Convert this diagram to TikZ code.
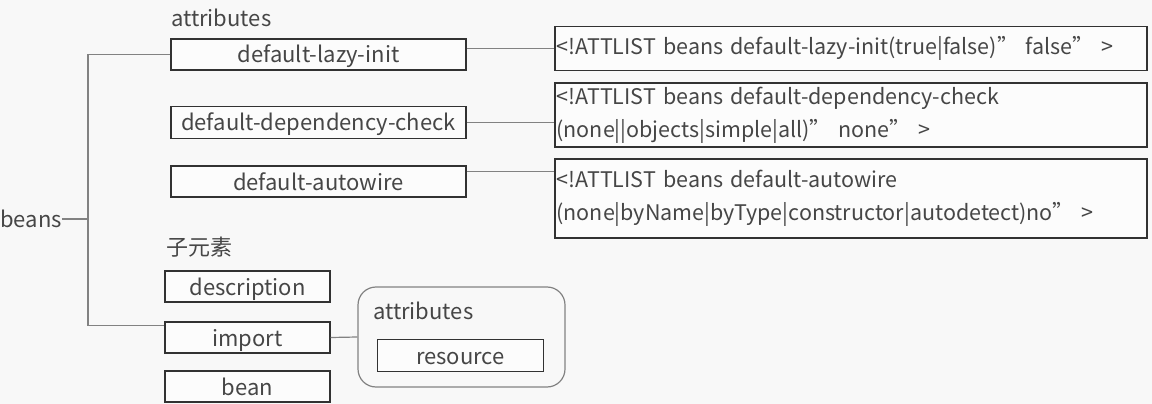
\documentclass[tikz,border=0pt]{standalone}
\usepackage{fontspec}
\setmainfont{Noto Sans CJK SC}
\definecolor{bg}{RGB}{248,248,248}
\definecolor{txt}{RGB}{70,70,70}
\definecolor{boxc}{RGB}{50,50,50}
\definecolor{linec}{RGB}{130,130,130}
\tikzset{
  lbl/.style={text=txt, font=\fontsize{22}{26}\selectfont, inner sep=0pt},
  ebox/.style={draw=boxc, line width=1.3pt, fill=white!60!bg, text=txt,
    font=\fontsize{22}{26}\selectfont, inner sep=0pt, text height=19pt, text depth=2pt},
  abox/.style={draw=boxc, line width=1.3pt, fill=white!60!bg, text=txt,
    font=\fontsize{21.5}{33}\selectfont, align=left, inner xsep=1.5pt, inner ysep=0pt},
  conn/.style={draw=linec, line width=1.2pt},
}
\begin{document}
\begin{tikzpicture}[x=1pt,y=-1pt]
\fill[bg] (0,0) rectangle (1152,404);
\useasboundingbox (0,0) rectangle (1152,404);
% left tree
\node[lbl, anchor=west] (beans) at (0,219) {beans};
\node[lbl, anchor=west] (attr1) at (171,18) {attributes};
\node[ebox, minimum width=295pt, minimum height=31pt] (lazy) at (318.5,54.5) {default-lazy-init};
\node[ebox, minimum width=295pt, minimum height=32pt] (dep) at (318.5,122.5) {default-dependency-check};
\node[ebox, minimum width=295pt, minimum height=31pt] (aw) at (318.5,181.5) {default-autowire};
\node[lbl, anchor=west] (sub) at (166,247) {子元素};
\node[ebox, minimum width=165pt, minimum height=31pt] (desc) at (247.5,286.5) {description};
\node[ebox, minimum width=165pt, minimum height=31pt] (imp) at (247.5,337.5) {import};
\node[ebox, minimum width=165pt, minimum height=31pt] (bean) at (247.5,386.5) {bean};
% rounded group
\node[draw=linec, line width=1.2pt, rounded corners=18pt, minimum width=207pt, minimum height=100pt, inner sep=0pt] (grp) at (461.5,337) {};
\node[lbl, anchor=west] (attr2) at (373,311) {attributes};
\node[ebox, minimum width=166pt, minimum height=32pt] (res) at (460.5,355.5) {resource};
% ATTLIST boxes
\node[abox, minimum width=592pt, minimum height=44pt, text width=589pt] (att1) at (851,48.5) {<!ATTLIST beans default-lazy-init(true|false)” false” >};
\node[abox, minimum width=592pt, minimum height=64pt, text width=589pt] (att2) at (851,115) {<!ATTLIST beans default-dependency-check\\(none||objects|simple|all)” none” >};
\node[abox, minimum width=592pt, minimum height=79pt, text width=589pt] (att3) at (851,198.5) {<!ATTLIST beans default-autowire\\(none|byName|byType|constructor|autodetect)no” >};
% connectors
\coordinate (trunk) at (88,219);
\coordinate (impj) at ([yshift=12pt]imp.west);
\draw[conn] (beans.east) -- (trunk);
\draw[conn] (lazy.west) -- (lazy.west -| trunk) -- (impj -| trunk) -- (impj);
\draw[conn] (att1.west -| lazy.east) -- (att1.west);
\draw[conn] (dep.east) -- (dep.east -| att2.west);
\coordinate (awj) at ([yshift=10pt]aw.east);
\draw[conn] (awj) -- (awj -| att3.west);
\draw[conn] (imp.east) -- (grp.west);
\end{tikzpicture}
\end{document}
